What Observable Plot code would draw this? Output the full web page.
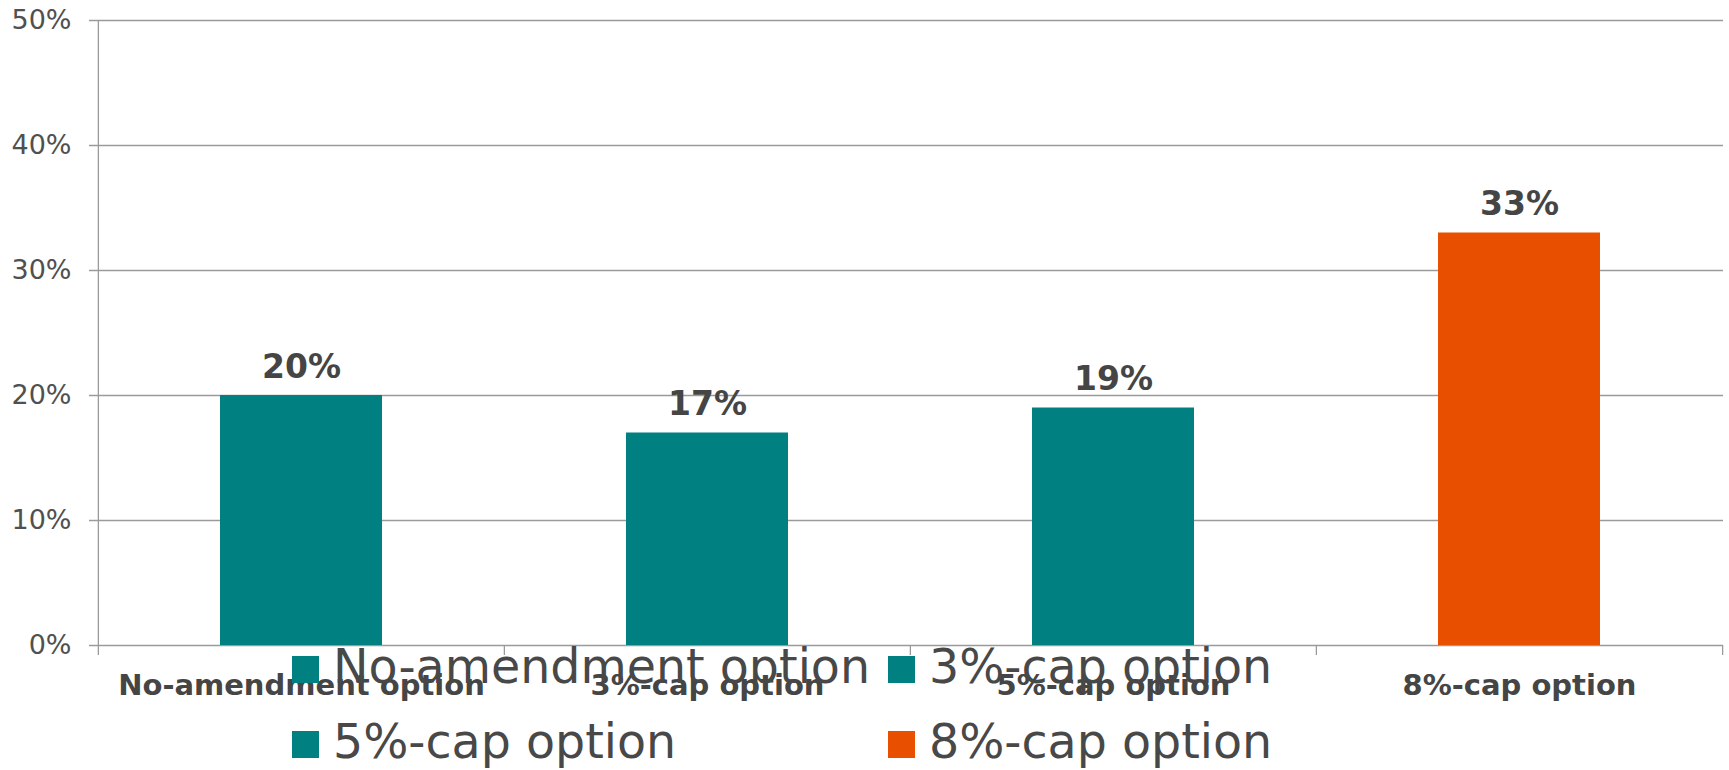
<!DOCTYPE html>
<html>
<head>
<meta charset="utf-8">
<script src="https://cdn.jsdelivr.net/npm/d3@7"></script>
<script src="https://cdn.jsdelivr.net/npm/@observablehq/plot@0.6"></script>
<style>
  html, body { margin: 0; padding: 0; background: #fff; overflow: hidden; }
  #wrap { position: relative; width: 1729px; height: 770px; }
  #legend {
    position: absolute; left: 292px; top: 629px;
    display: grid; grid-template-columns: 596px auto;
    font-family: "DejaVu Sans", Verdana, sans-serif;
    font-size: 47.5px; line-height: 75px; color: #484848;
    white-space: nowrap;
  }
  #legend .sw {
    display: inline-block; width: 27px; height: 27px;
    margin-right: 14px; vertical-align: baseline;
  }
</style>
</head>
<body>
<div id="wrap"></div>
<script>
// Share of respondents choosing each amendment option
const categories = ["No-amendment option", "3%-cap option", "5%-cap option", "8%-cap option"];
const shares = [20, 17, 19, 33];
const barColors = ["#008080", "#008080", "#008080", "#e85000"];
const yTicks = [0, 10, 20, 30, 40, 50];

const data = categories.map((c, i) => ({category: c, share: shares[i]}));

const W = 1729, H = 770;
const mL = 98, mR = 6, mT = 20, mB = 125;
const step = (W - mL - mR) / categories.length;
const grey = "#9a9a9a";
const ink = "#454545";

const chart = Plot.plot({
  width: W,
  height: H,
  marginLeft: mL,
  marginRight: mR,
  marginTop: mT,
  marginBottom: mB,
  style: {fontFamily: "'DejaVu Sans', Verdana, sans-serif", color: ink, background: "#fff", overflow: "visible"},
  x: {domain: categories, paddingInner: 0.6, paddingOuter: 0.3},
  y: {domain: [0, 50]},
  color: {domain: categories, range: barColors},
  marks: [
    // horizontal gridlines with short ticks left of the axis
    Plot.ruleY(yTicks, {stroke: grey, strokeWidth: 1.3, insetLeft: -9}),
    Plot.barY(data, {x: "category", y: "share", fill: "category"}),
    // vertical axis line, reaching a little below the baseline
    Plot.ruleX([categories[0]], {
      x: d => d, y1: 50, y2: 0, dx: -step / 2, insetBottom: -10, stroke: grey, strokeWidth: 1.3
    }),
    // category boundary ticks below the baseline
    Plot.ruleX(categories.slice(1), {
      x: d => d, y1: 0, y2: 0, dx: -step / 2, insetBottom: -10, stroke: grey, strokeWidth: 1.3
    }),
    Plot.ruleX([categories[categories.length - 1]], {
      x: d => d, y1: 0, y2: 0, dx: step / 2, insetBottom: -10, stroke: grey, strokeWidth: 1.3
    }),
    Plot.axisY(yTicks, {label: null, tickSize: 0, tickPadding: 27, fontSize: 27, fill: "#505050", tickFormat: d => d + "%"}),
    Plot.axisX({label: null, tickSize: 0, tickPadding: 29, fontSize: 29, fontWeight: "bold", fill: ink}),
    Plot.text(data, {
      x: "category", y: "share", text: d => d.share + "%",
      lineAnchor: "bottom", dy: -18, fontSize: 33, fontWeight: "bold", fill: ink
    })
  ]
});

const wrap = document.getElementById("wrap");
wrap.appendChild(chart);

// legend from the color scale
const color = chart.scale("color");
const legend = document.createElement("div");
legend.id = "legend";
color.domain.forEach((d, i) => {
  const item = document.createElement("div");
  const sw = document.createElement("span");
  sw.className = "sw";
  sw.style.background = color.range[i];
  item.appendChild(sw);
  item.appendChild(document.createTextNode(d));
  legend.appendChild(item);
});
wrap.appendChild(legend);
</script>
</body>
</html>
